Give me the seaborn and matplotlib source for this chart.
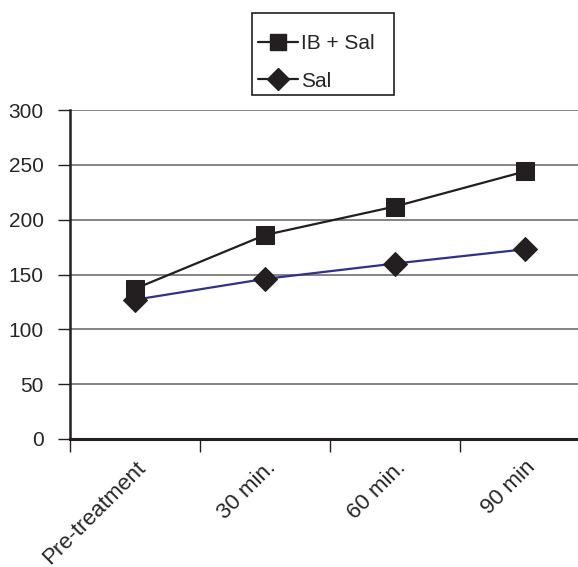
import matplotlib
matplotlib.use("Agg")
import matplotlib.pyplot as plt
import seaborn as sns
import pandas as pd
from matplotlib.lines import Line2D
from matplotlib.patches import Rectangle

# values
timepoints = ["Pre-treatment", "30 min.", "60 min.", "90 min"]
ib_sal = [137, 186, 212, 244]
sal = [127, 146, 160, 173]
series_names = ["IB + Sal", "Sal"]

df = pd.DataFrame({
    "pos": list(range(len(timepoints))) * 2,
    "value": ib_sal + sal,
    "series": [series_names[0]] * len(ib_sal) + [series_names[1]] * len(sal),
})

sns.set_style("white")
plt.rcParams["font.family"] = ["Liberation Sans", "DejaVu Sans"]

fig = plt.figure(figsize=(5.78, 5.67), dpi=100)
ax = fig.add_axes([70 / 578, 1 - 439 / 567, 520 / 578, 329 / 567])

dark = "#231f20"
blue = "#2e3192"

sns.lineplot(data=df[df.series == "IB + Sal"], x="pos", y="value", ax=ax,
             color=dark, lw=1.6, marker="s", markersize=12.5,
             markerfacecolor=dark, markeredgecolor=dark, legend=False)
sns.lineplot(data=df[df.series == "Sal"], x="pos", y="value", ax=ax,
             color=blue, lw=1.6, marker="D", markersize=12.5,
             markerfacecolor=dark, markeredgecolor=dark, legend=False)

ax.set_xlim(-0.5, 3.5)
ax.set_ylim(0, 300)
ax.set_yticks(range(0, 301, 50))
ax.yaxis.grid(True, color="#7a7a7a", lw=1.3)
ax.set_axisbelow(True)

# category boundaries get the tick marks, labels sit at centres
ax.set_xticks([-0.5, 0.5, 1.5, 2.5, 3.5])
ax.set_xticklabels([])
ax.set_xticks(range(len(timepoints)), minor=True)
ax.set_xticklabels(timepoints, minor=True, rotation=45, ha="right",
                   rotation_mode="anchor", fontsize=16)
ax.tick_params(axis="x", which="major", direction="out", length=9,
               width=1, color=dark, bottom=True)
ax.tick_params(axis="x", which="minor", length=0, pad=13, bottom=True)
ax.tick_params(axis="y", direction="out", length=9, width=1, color=dark,
               labelsize=15, pad=10, left=True)

for s in ["top", "right"]:
    ax.spines[s].set_visible(False)
ax.spines["left"].set_color(dark)
ax.spines["left"].set_linewidth(1.8)
ax.spines["bottom"].set_color(dark)
ax.spines["bottom"].set_linewidth(2.2)

ax.set_xlabel("")
ax.set_ylabel("")

# legend: black handle lines for both, frame drawn separately
handles = [
    Line2D([], [], color=dark, lw=1.6, marker="s", markersize=12,
           markerfacecolor=dark, markeredgecolor=dark),
    Line2D([], [], color=dark, lw=1.6, marker="D", markersize=11,
           markerfacecolor=dark, markeredgecolor=dark),
]
fig.legend(handles, series_names, loc="upper left",
           bbox_to_anchor=(258 / 578, 1 - 34 / 567), borderaxespad=0,
           frameon=False, fontsize=15, handlelength=1.9, handletextpad=0.15,
           labelspacing=0.9, borderpad=0)
fig.patches.append(Rectangle((252 / 578, 1 - 95 / 567), 142 / 578, 82 / 567,
                             transform=fig.transFigure, fill=False,
                             edgecolor=dark, lw=1.2))

fig.savefig("out.png", dpi=100)
